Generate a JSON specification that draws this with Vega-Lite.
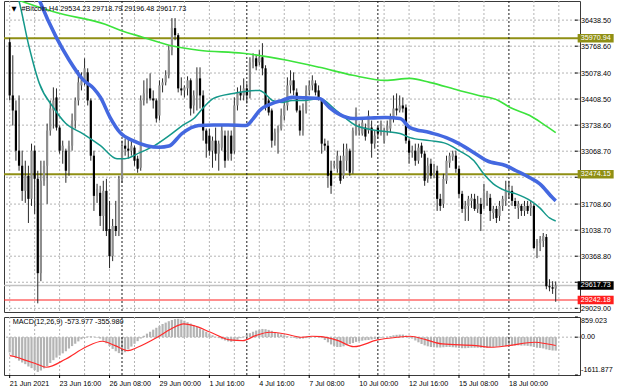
{
"$schema":"https://vega.github.io/schema/vega-lite/v6.json",
"background":"#ffffff",
"padding":{"left":2,"top":0,"right":0,"bottom":0},
"spacing":2,
"config":{
 "font":"Liberation Sans",
 "view":{"stroke":"#3a3a3a","strokeWidth":1},
 "axis":{"domain":false,"labels":false,"ticks":false,"grid":false}
},
"datasets":{
 "candles":[
{"i":0,"o":35871,"h":35974,"l":34373,"c":34502},{"i":1,"o":34502,"h":35535,"l":33728,"c":34115},{"i":2,"o":34115,"h":34373,"l":32824,"c":33082},{"i":3,"o":33082,"h":34502,"l":32566,"c":32695},{"i":4,"o":32695,"h":33082,"l":31791,"c":32049},{"i":5,"o":32049,"h":32824,"l":31740,"c":32437},{"i":6,"o":32437,"h":32695,"l":31223,"c":31843},{"i":7,"o":31843,"h":33263,"l":31662,"c":33082},{"i":8,"o":33082,"h":33211,"l":31456,"c":32359},{"i":9,"o":32359,"h":32566,"l":29157,"c":29932},
{"i":10,"o":29932,"h":32824,"l":29726,"c":32308},{"i":11,"o":32308,"h":32824,"l":32179,"c":32695},{"i":12,"o":32695,"h":33779,"l":31714,"c":33599},{"i":13,"o":33599,"h":34373,"l":33469,"c":34166},{"i":14,"o":34115,"h":34709,"l":33650,"c":34373},{"i":15,"o":34451,"h":34683,"l":33599,"c":33676},{"i":16,"o":33676,"h":33728,"l":33005,"c":33082},{"i":17,"o":33082,"h":33340,"l":32746,"c":33211},{"i":18,"o":33082,"h":33134,"l":32256,"c":32566},{"i":19,"o":32566,"h":33340,"l":32437,"c":33211},
{"i":20,"o":33211,"h":34037,"l":33082,"c":33856},{"i":21,"o":33856,"h":34451,"l":33650,"c":34373},{"i":22,"o":34373,"h":35148,"l":34244,"c":34838},{"i":23,"o":34760,"h":35096,"l":34631,"c":34890},{"i":24,"o":34890,"h":35457,"l":34760,"c":35199},{"i":25,"o":35096,"h":35199,"l":34244,"c":34373},{"i":26,"o":34373,"h":34425,"l":32824,"c":32953},{"i":27,"o":32953,"h":33082,"l":31533,"c":31920},{"i":28,"o":31920,"h":32230,"l":31740,"c":32101},{"i":29,"o":31998,"h":32179,"l":31146,"c":31404},
{"i":30,"o":31404,"h":32308,"l":31016,"c":32049},{"i":31,"o":32049,"h":32359,"l":30887,"c":31016},{"i":32,"o":31068,"h":31791,"l":30061,"c":30371},{"i":33,"o":30371,"h":31327,"l":30242,"c":31146},{"i":34,"o":31146,"h":31791,"l":30887,"c":31016},{"i":35,"o":31016,"h":32437,"l":30887,"c":32359},{"i":36,"o":32359,"h":33340,"l":32256,"c":33211},{"i":37,"o":33211,"h":33392,"l":32953,"c":33134},{"i":38,"o":33134,"h":33392,"l":32876,"c":33082},{"i":39,"o":33082,"h":33340,"l":32953,"c":33211},
{"i":40,"o":33160,"h":33211,"l":32695,"c":32824},{"i":41,"o":32876,"h":32953,"l":32514,"c":32617},{"i":42,"o":32643,"h":34502,"l":32566,"c":34373},{"i":43,"o":34373,"h":34890,"l":34244,"c":34554},{"i":44,"o":34554,"h":34941,"l":34296,"c":34683},{"i":45,"o":34683,"h":35070,"l":34373,"c":34425},{"i":46,"o":34425,"h":34631,"l":34166,"c":34373},{"i":47,"o":34373,"h":34425,"l":33805,"c":33908},{"i":48,"o":33985,"h":34890,"l":33856,"c":34760},{"i":49,"o":34760,"h":34941,"l":34580,"c":34838},
{"i":50,"o":34838,"h":35148,"l":34760,"c":35019},{"i":51,"o":35019,"h":35793,"l":34941,"c":35664},{"i":52,"o":35664,"h":36490,"l":35535,"c":36232},{"i":53,"o":36232,"h":36490,"l":35922,"c":36051},{"i":54,"o":36051,"h":36103,"l":34580,"c":34683},{"i":55,"o":34683,"h":34967,"l":34502,"c":34631},{"i":56,"o":34631,"h":34760,"l":34451,"c":34709},{"i":57,"o":34683,"h":34993,"l":34502,"c":34890},{"i":58,"o":34890,"h":34941,"l":33985,"c":34166},{"i":59,"o":34244,"h":34631,"l":34037,"c":34502},
{"i":60,"o":34502,"h":35225,"l":34115,"c":34941},{"i":61,"o":34941,"h":35225,"l":34166,"c":34502},{"i":62,"o":34502,"h":34631,"l":33340,"c":33599},{"i":63,"o":33599,"h":33650,"l":32901,"c":33263},{"i":64,"o":33469,"h":33650,"l":32953,"c":33082},{"i":65,"o":33082,"h":33444,"l":32643,"c":33340},{"i":66,"o":33340,"h":33676,"l":32824,"c":33005},{"i":67,"o":33005,"h":33340,"l":32566,"c":33263},{"i":68,"o":33160,"h":33728,"l":33082,"c":33599},{"i":69,"o":33469,"h":33599,"l":32643,"c":32824},
{"i":70,"o":32876,"h":33599,"l":32824,"c":33469},{"i":71,"o":33469,"h":33599,"l":32824,"c":33005},{"i":72,"o":33082,"h":34451,"l":33005,"c":34244},{"i":73,"o":34244,"h":34709,"l":34115,"c":34580},{"i":74,"o":34580,"h":34760,"l":34373,"c":34502},{"i":75,"o":34502,"h":34941,"l":34373,"c":34683},{"i":76,"o":34683,"h":34812,"l":34296,"c":34502},{"i":77,"o":34502,"h":35483,"l":34425,"c":35354},{"i":78,"o":35354,"h":35587,"l":35199,"c":35457},{"i":79,"o":35457,"h":35535,"l":35148,"c":35251},
{"i":80,"o":35354,"h":35664,"l":35277,"c":35483},{"i":81,"o":35483,"h":35845,"l":35019,"c":35199},{"i":82,"o":35199,"h":35277,"l":34115,"c":34244},{"i":83,"o":34373,"h":34425,"l":33985,"c":34063},{"i":84,"o":34115,"h":34166,"l":33160,"c":33340},{"i":85,"o":33340,"h":33650,"l":33211,"c":33547},{"i":86,"o":33547,"h":33728,"l":33005,"c":33650},{"i":87,"o":33650,"h":34166,"l":33599,"c":33985},{"i":88,"o":33985,"h":34425,"l":33856,"c":34244},{"i":89,"o":34244,"h":34967,"l":34115,"c":34760},
{"i":90,"o":34760,"h":35148,"l":34554,"c":34890},{"i":91,"o":34890,"h":35096,"l":34502,"c":34631},{"i":92,"o":34580,"h":34683,"l":34063,"c":34115},{"i":93,"o":34115,"h":34244,"l":33469,"c":33599},{"i":94,"o":33599,"h":34296,"l":33469,"c":34115},{"i":95,"o":34115,"h":34760,"l":34037,"c":34631},{"i":96,"o":34631,"h":34890,"l":34502,"c":34760},{"i":97,"o":34760,"h":35019,"l":34631,"c":34890},{"i":98,"o":34812,"h":34890,"l":34502,"c":34580},{"i":99,"o":34631,"h":34760,"l":34373,"c":34451},
{"i":100,"o":34373,"h":34425,"l":33005,"c":33263},{"i":101,"o":33263,"h":33392,"l":33082,"c":33211},{"i":102,"o":33211,"h":33340,"l":32127,"c":32437},{"i":103,"o":32566,"h":32824,"l":31972,"c":32179},{"i":104,"o":32695,"h":32824,"l":32617,"c":32746},{"i":105,"o":32617,"h":33082,"l":32514,"c":32953},{"i":106,"o":32824,"h":32953,"l":32230,"c":32308},{"i":107,"o":32437,"h":33263,"l":32359,"c":32953},{"i":108,"o":32824,"h":33263,"l":32566,"c":33134},{"i":109,"o":33082,"h":33134,"l":32437,"c":32514},
{"i":110,"o":32566,"h":33676,"l":32488,"c":33599},{"i":111,"o":33521,"h":34192,"l":33469,"c":34063},{"i":112,"o":33599,"h":33779,"l":33469,"c":33676},{"i":113,"o":33521,"h":33908,"l":33469,"c":33805},{"i":114,"o":33676,"h":33779,"l":33340,"c":33444},{"i":115,"o":33599,"h":34115,"l":33521,"c":33985},{"i":116,"o":33676,"h":33856,"l":32901,"c":33263},{"i":117,"o":33263,"h":33599,"l":33134,"c":33469},{"i":118,"o":33676,"h":33728,"l":33392,"c":33521},{"i":119,"o":33521,"h":33856,"l":33469,"c":33779},
{"i":120,"o":33340,"h":33676,"l":33263,"c":33599},{"i":121,"o":33599,"h":33856,"l":33469,"c":33728},{"i":122,"o":33650,"h":34037,"l":33547,"c":33934},{"i":123,"o":33908,"h":34502,"l":33805,"c":34166},{"i":124,"o":34166,"h":34554,"l":33985,"c":34115},{"i":125,"o":34115,"h":34502,"l":34063,"c":34244},{"i":126,"o":34244,"h":34451,"l":34063,"c":34166},{"i":127,"o":34192,"h":34270,"l":33263,"c":33340},{"i":128,"o":33340,"h":33392,"l":32746,"c":33030},{"i":129,"o":33030,"h":33211,"l":32901,"c":33082},
{"i":130,"o":33082,"h":33263,"l":32695,"c":32824},{"i":131,"o":32824,"h":33263,"l":32746,"c":33160},{"i":132,"o":33211,"h":33289,"l":32901,"c":33005},{"i":133,"o":33005,"h":33082,"l":32179,"c":32308},{"i":134,"o":32359,"h":32901,"l":32256,"c":32695},{"i":135,"o":32746,"h":32876,"l":32359,"c":32437},{"i":136,"o":32437,"h":32746,"l":32385,"c":32617},{"i":137,"o":32566,"h":32695,"l":31533,"c":31843},{"i":138,"o":31843,"h":31972,"l":31533,"c":31662},{"i":139,"o":31714,"h":32488,"l":31610,"c":32359},
{"i":140,"o":32308,"h":32953,"l":32230,"c":32824},{"i":141,"o":32772,"h":33030,"l":32643,"c":32953},{"i":142,"o":32927,"h":33082,"l":32824,"c":33005},{"i":143,"o":32953,"h":33082,"l":32514,"c":32617},{"i":144,"o":32617,"h":32695,"l":31869,"c":31972},{"i":145,"o":31972,"h":32049,"l":31481,"c":31585},{"i":146,"o":31585,"h":31791,"l":31275,"c":31662},{"i":147,"o":31662,"h":31920,"l":31275,"c":31843},{"i":148,"o":31791,"h":31972,"l":31610,"c":31869},{"i":149,"o":31843,"h":31972,"l":31533,"c":31585},
{"i":150,"o":31585,"h":31920,"l":31481,"c":31714},{"i":151,"o":31714,"h":31869,"l":31016,"c":31456},{"i":152,"o":31662,"h":32230,"l":31585,"c":31998},{"i":153,"o":31869,"h":32049,"l":31662,"c":31998},{"i":154,"o":31869,"h":31972,"l":31275,"c":31533},{"i":155,"o":31481,"h":31662,"l":31327,"c":31585},{"i":156,"o":31585,"h":31662,"l":31223,"c":31352},{"i":157,"o":31404,"h":31791,"l":31275,"c":31662},{"i":158,"o":31662,"h":31920,"l":31533,"c":31843},{"i":159,"o":31791,"h":32308,"l":31662,"c":32049},
{"i":160,"o":31998,"h":32308,"l":31843,"c":32101},{"i":161,"o":32049,"h":32179,"l":31662,"c":31791},{"i":162,"o":31791,"h":31869,"l":31585,"c":31662},{"i":163,"o":31610,"h":31791,"l":31327,"c":31714},{"i":164,"o":31662,"h":31714,"l":31404,"c":31533},{"i":165,"o":31533,"h":31791,"l":31404,"c":31662},{"i":166,"o":31662,"h":31791,"l":31456,"c":31533},{"i":167,"o":31610,"h":31791,"l":31404,"c":31714},{"i":168,"o":31662,"h":31714,"l":30552,"c":30578},{"i":169,"o":30629,"h":30810,"l":30319,"c":30758},
{"i":170,"o":30707,"h":30887,"l":30500,"c":30810},{"i":171,"o":30758,"h":30965,"l":30603,"c":30887},{"i":172,"o":30861,"h":30939,"l":29519,"c":29597},{"i":173,"o":29597,"h":29777,"l":29467,"c":29570},{"i":174,"o":29570,"h":29726,"l":29400,"c":29534},{"i":175,"o":29534.23,"h":29718.79,"l":29196.48,"c":29617.73}
 ],
 "ma":[
{"s":"ma50","i":8,"v":37265},{"s":"ma50","i":9.5,"v":36955},{"s":"ma50","i":14.9,"v":36000},{"s":"ma50","i":19,"v":35420},{"s":"ma50","i":23.4,"v":34915},{"s":"ma50","i":26.9,"v":34683},{"s":"ma50","i":29.1,"v":34451},{"s":"ma50","i":32.2,"v":33934},{"s":"ma50","i":35.4,"v":33547},{"s":"ma50","i":39.5,"v":33340},{"s":"ma50","i":43.9,"v":33211},{"s":"ma50","i":48,"v":33170},{"s":"ma50","i":51,"v":33200},{"s":"ma50","i":55.2,"v":33521},{"s":"ma50","i":60.6,"v":33728},{"s":"ma50","i":65.3,"v":33740},{"s":"ma50","i":70,"v":33740},{"s":"ma50","i":75.7,"v":33728},{"s":"ma50","i":78,"v":33900},{"s":"ma50","i":80.1,"v":34115},{"s":"ma50","i":84.2,"v":34296},{"s":"ma50","i":87.3,"v":34373},{"s":"ma50","i":90.5,"v":34451},{"s":"ma50","i":95,"v":34440},{"s":"ma50","i":99.3,"v":34425},{"s":"ma50","i":102.5,"v":34192},{"s":"ma50","i":106,"v":34000},{"s":"ma50","i":110,"v":33908},{"s":"ma50","i":115,"v":33920},{"s":"ma50","i":120.4,"v":33934},{"s":"ma50","i":125.1,"v":33908},{"s":"ma50","i":128.3,"v":33676},{"s":"ma50","i":134.6,"v":33547},{"s":"ma50","i":139.9,"v":33418},{"s":"ma50","i":144,"v":33263},{"s":"ma50","i":150.3,"v":32953},{"s":"ma50","i":152.9,"v":32824},{"s":"ma50","i":159.1,"v":32695},{"s":"ma50","i":162.3,"v":32566},{"s":"ma50","i":166.7,"v":32385},{"s":"ma50","i":169.9,"v":32230},{"s":"ma50","i":174,"v":31869},{"s":"ma50","i":175,"v":31791},
{"s":"ma21","i":1.5,"v":37300},{"s":"ma21","i":2.9,"v":36955},{"s":"ma21","i":6.1,"v":35793},{"s":"ma21","i":9.5,"v":34812},{"s":"ma21","i":14,"v":34192},{"s":"ma21","i":18,"v":33779},{"s":"ma21","i":23.4,"v":33521},{"s":"ma21","i":29.1,"v":33211},{"s":"ma21","i":34.4,"v":32876},{"s":"ma21","i":36.9,"v":32876},{"s":"ma21","i":41.7,"v":33030},{"s":"ma21","i":46.4,"v":33211},{"s":"ma21","i":51.1,"v":33469},{"s":"ma21","i":55.8,"v":33753},{"s":"ma21","i":59,"v":33908},{"s":"ma21","i":62.1,"v":34192},{"s":"ma21","i":65.3,"v":34425},{"s":"ma21","i":71.6,"v":34554},{"s":"ma21","i":80.1,"v":34631},{"s":"ma21","i":81.7,"v":34554},{"s":"ma21","i":84.2,"v":34373},{"s":"ma21","i":87.3,"v":34321},{"s":"ma21","i":90.5,"v":34373},{"s":"ma21","i":94.3,"v":34373},{"s":"ma21","i":99.3,"v":34425},{"s":"ma21","i":104.7,"v":34115},{"s":"ma21","i":111,"v":33728},{"s":"ma21","i":115.7,"v":33624},{"s":"ma21","i":120.4,"v":33573},{"s":"ma21","i":125.1,"v":33521},{"s":"ma21","i":128.3,"v":33418},{"s":"ma21","i":134.6,"v":33340},{"s":"ma21","i":139.9,"v":33263},{"s":"ma21","i":144,"v":33082},{"s":"ma21","i":148.8,"v":32824},{"s":"ma21","i":151.9,"v":32488},{"s":"ma21","i":155,"v":32230},{"s":"ma21","i":159.1,"v":32049},{"s":"ma21","i":162.3,"v":31972},{"s":"ma21","i":167,"v":31791},{"s":"ma21","i":169.9,"v":31610},{"s":"ma21","i":173,"v":31352},{"s":"ma21","i":175,"v":31275},
{"s":"ma200","i":0,"v":37032},{"s":"ma200","i":5.4,"v":36878},{"s":"ma200","i":14.9,"v":36635},{"s":"ma200","i":30.6,"v":36330},{"s":"ma200","i":35.4,"v":36180},{"s":"ma200","i":42.6,"v":36000},{"s":"ma200","i":51.1,"v":35793},{"s":"ma200","i":60.6,"v":35664},{"s":"ma200","i":74.7,"v":35587},{"s":"ma200","i":88.9,"v":35406},{"s":"ma200","i":99.3,"v":35225},{"s":"ma200","i":110,"v":35019},{"s":"ma200","i":120.4,"v":34890},{"s":"ma200","i":128.3,"v":34941},{"s":"ma200","i":134.6,"v":34838},{"s":"ma200","i":144,"v":34631},{"s":"ma200","i":150.3,"v":34502},{"s":"ma200","i":156.6,"v":34373},{"s":"ma200","i":160.4,"v":34192},{"s":"ma200","i":166.7,"v":33985},{"s":"ma200","i":170.8,"v":33779},{"s":"ma200","i":175,"v":33547}
 ],
 "hist":[
{"i":0,"v":-650},{"i":1,"v":-780},{"i":2,"v":-900},{"i":3,"v":-1000},{"i":4,"v":-1080},{"i":5,"v":-1150},{"i":6,"v":-1250},{"i":7,"v":-1320},{"i":8,"v":-1400},{"i":9,"v":-1480},{"i":10,"v":-1420},{"i":11,"v":-1330},{"i":12,"v":-1240},{"i":13,"v":-1100},{"i":14,"v":-980},{"i":15,"v":-870},{"i":16,"v":-780},{"i":17,"v":-690},{"i":18,"v":-600},{"i":19,"v":-480},{"i":20,"v":-380},{"i":21,"v":-280},{"i":22,"v":-180},{"i":23,"v":-90},{"i":24,"v":-30},{"i":25,"v":30},{"i":26,"v":40},{"i":27,"v":20},{"i":28,"v":-20},{"i":29,"v":-60},{"i":30,"v":-150},{"i":31,"v":-260},{"i":32,"v":-380},{"i":33,"v":-500},{"i":34,"v":-600},{"i":35,"v":-680},{"i":36,"v":-715},{"i":37,"v":-640},{"i":38,"v":-520},{"i":39,"v":-400},{"i":40,"v":-280},{"i":41,"v":-170},{"i":42,"v":-60},{"i":43,"v":60},{"i":44,"v":150},{"i":45,"v":230},{"i":46,"v":320},{"i":47,"v":400},{"i":48,"v":480},{"i":49,"v":560},{"i":50,"v":620},{"i":51,"v":680},{"i":52,"v":730},{"i":53,"v":770},{"i":54,"v":780},{"i":55,"v":750},{"i":56,"v":700},{"i":57,"v":640},{"i":58,"v":580},{"i":59,"v":510},{"i":60,"v":440},{"i":61,"v":370},{"i":62,"v":300},{"i":63,"v":230},{"i":64,"v":150},{"i":65,"v":80},{"i":66,"v":20},{"i":67,"v":-40},{"i":68,"v":-90},{"i":69,"v":-140},{"i":70,"v":-180},{"i":71,"v":-200},{"i":72,"v":-170},{"i":73,"v":-110},{"i":74,"v":-40},{"i":75,"v":30},{"i":76,"v":100},{"i":77,"v":170},{"i":78,"v":230},{"i":79,"v":280},{"i":80,"v":320},{"i":81,"v":350},{"i":82,"v":340},{"i":83,"v":310},{"i":84,"v":270},{"i":85,"v":220},{"i":86,"v":170},{"i":87,"v":120},{"i":88,"v":80},{"i":89,"v":40},{"i":90,"v":5},{"i":91,"v":-30},{"i":92,"v":-60},{"i":93,"v":-70},{"i":94,"v":-60},{"i":95,"v":-40},{"i":96,"v":-20},{"i":97,"v":5},{"i":98,"v":20},{"i":99,"v":10},{"i":100,"v":-40},{"i":101,"v":-120},{"i":102,"v":-220},{"i":103,"v":-310},{"i":104,"v":-380},{"i":105,"v":-420},{"i":106,"v":-420},{"i":107,"v":-390},{"i":108,"v":-340},{"i":109,"v":-290},{"i":110,"v":-250},{"i":111,"v":-200},{"i":112,"v":-170},{"i":113,"v":-150},{"i":114,"v":-130},{"i":115,"v":-120},{"i":116,"v":-100},{"i":117,"v":-80},{"i":118,"v":-60},{"i":119,"v":-30},{"i":120,"v":5},{"i":121,"v":20},{"i":122,"v":50},{"i":123,"v":80},{"i":124,"v":100},{"i":125,"v":110},{"i":126,"v":110},{"i":127,"v":70},{"i":128,"v":20},{"i":129,"v":-60},{"i":130,"v":-140},{"i":131,"v":-220},{"i":132,"v":-290},{"i":133,"v":-350},{"i":134,"v":-390},{"i":135,"v":-420},{"i":136,"v":-430},{"i":137,"v":-440},{"i":138,"v":-440},{"i":139,"v":-430},{"i":140,"v":-420},{"i":141,"v":-420},{"i":142,"v":-430},{"i":143,"v":-440},{"i":144,"v":-460},{"i":145,"v":-470},{"i":146,"v":-470},{"i":147,"v":-460},{"i":148,"v":-450},{"i":149,"v":-450},{"i":150,"v":-450},{"i":151,"v":-450},{"i":152,"v":-450},{"i":153,"v":-440},{"i":154,"v":-430},{"i":155,"v":-420},{"i":156,"v":-410},{"i":157,"v":-400},{"i":158,"v":-390},{"i":159,"v":-380},{"i":160,"v":-370},{"i":161,"v":-360},{"i":162,"v":-350},{"i":163,"v":-350},{"i":164,"v":-360},{"i":165,"v":-360},{"i":166,"v":-370},{"i":167,"v":-390},{"i":168,"v":-420},{"i":169,"v":-450},{"i":170,"v":-460},{"i":171,"v":-480},{"i":172,"v":-520},{"i":173,"v":-550},{"i":174,"v":-570},{"i":175,"v":-573.977}
 ],
 "signal":[
{"i":0,"v":-788},{"i":2.3,"v":-856},{"i":5.4,"v":-1001},{"i":8.6,"v":-1142},{"i":11.7,"v":-1282},{"i":18,"v":-929},{"i":24.3,"v":-430},{"i":29.7,"v":-175},{"i":33.8,"v":-362},{"i":37.9,"v":-575},{"i":41,"v":-430},{"i":47.3,"v":-4},{"i":51.7,"v":349},{"i":55.8,"v":562},{"i":59,"v":490},{"i":64.4,"v":209},{"i":70.6,"v":-119},{"i":74.7,"v":-149},{"i":78.8,"v":64},{"i":83.2,"v":209},{"i":88.3,"v":136},{"i":93.6,"v":-4},{"i":96.8,"v":38},{"i":100,"v":21},{"i":105.3,"v":-149},{"i":110.3,"v":-405},{"i":117.9,"v":-119},{"i":124.2,"v":-4},{"i":128.3,"v":38},{"i":133.6,"v":-119},{"i":138.7,"v":-290},{"i":149.4,"v":-362},{"i":154.4,"v":-430},{"i":159.8,"v":-362},{"i":168.3,"v":-217},{"i":172.4,"v":-290},{"i":175,"v":-355.98}
 ],
 "levels":[{"p":35970.94,"kind":"res"},{"p":32474.15,"kind":"res"},{"p":29617.73,"kind":"bid"},{"p":29242.18,"kind":"sup"}],
 "seps":[{"i":36},{"i":76},{"i":118},{"i":160}],
 "xgrid":[{"i":0},{"i":8},{"i":16},{"i":24},{"i":32},{"i":40},{"i":48},{"i":56},{"i":64},{"i":72},{"i":80},{"i":88},{"i":96},{"i":104},{"i":112},{"i":120},{"i":128},{"i":136},{"i":144},{"i":152},{"i":168},{"i":176}],
 "yticks":[{"p":36438.5,"show":true},{"p":35768.6,"show":true},{"p":35078.4,"show":true},{"p":34408.5,"show":true},{"p":33738.6,"show":true},{"p":33068.7,"show":true},{"p":32398.8,"show":false},{"p":31708.6,"show":true},{"p":31038.7,"show":true},{"p":30368.8,"show":true},{"p":29698.9,"show":false},{"p":29029.0,"show":true}],
 "ticksx":[
{"i":0,"label":"21 Jun 2021"},{"i":16,"label":"23 Jun 16:00"},{"i":32,"label":"26 Jun 08:00"},{"i":48,"label":"29 Jun 00:00"},{"i":64,"label":"1 Jul 16:00"},{"i":80,"label":"4 Jul 16:00"},{"i":96,"label":"7 Jul 08:00"},{"i":112,"label":"10 Jul 00:00"},{"i":128,"label":"12 Jul 16:00"},{"i":144,"label":"15 Jul 08:00"},{"i":160,"label":"18 Jul 00:00"}
 ]
},
"vconcat":[
 {
  "width":576,"height":311,
  "layer":[
   {"data":{"name":"xgrid"},"mark":{"type":"rule","strokeDash":[2,2],"strokeWidth":1,"color":"#b4b4b4"},
    "encoding":{"x":{"field":"i","type":"quantitative","scale":{"domain":[-0.22,181.18],"nice":false,"zero":false},"axis":{"title":null,"labels":false,"ticks":false,"grid":false,"domain":false}}}},
   {"data":{"name":"yticks"},"mark":{"type":"rule","strokeDash":[2,2],"strokeWidth":1,"color":"#b4b4b4"},
    "encoding":{"y":{"field":"p","type":"quantitative","scale":{"domain":[28934,36930],"nice":false,"zero":false},"axis":{"title":null,"orient":"right","labels":false,"ticks":false,"grid":false,"domain":false}}}},
   {"data":{"name":"levels"},"mark":{"type":"rule"},
    "encoding":{
     "y":{"field":"p","type":"quantitative"},
     "stroke":{"field":"kind","type":"nominal","legend":null,"scale":{"domain":["res","bid","sup"],"range":["#8f8f14","#c2c2c2","#ff1f1f"]}},
     "strokeWidth":{"field":"kind","type":"nominal","legend":null,"scale":{"domain":["res","bid","sup"],"range":[2,1,2]}}}},
   {"data":{"name":"seps"},"mark":{"type":"rule","strokeDash":[2,2],"strokeWidth":1},
    "encoding":{"x":{"field":"i","type":"quantitative"},"color":{"value":"#1a1a1a"}}},
   {"data":{"name":"candles"},"mark":{"type":"rule","strokeWidth":1},
    "encoding":{"x":{"field":"i","type":"quantitative"},"y":{"field":"l","type":"quantitative"},"y2":{"field":"h"},"color":{"value":"#2a2a2a"}}},
   {"data":{"name":"candles"},"mark":{"type":"bar","size":2.2},
    "encoding":{
     "x":{"field":"i","type":"quantitative"},
     "y":{"field":"o","type":"quantitative"},
     "y2":{"field":"c"},
     "color":{"condition":{"test":"datum.c >= datum.o","value":"#8e8e8e"},"value":"#000000"}}},
   {"data":{"name":"ma"},"transform":[{"filter":"datum.s == 'ma200'"}],"mark":{"type":"line","clip":true,"interpolate":"monotone","strokeWidth":1.6,"color":"#3ce33c"},
    "encoding":{"x":{"field":"i","type":"quantitative"},"y":{"field":"v","type":"quantitative"}}},
   {"data":{"name":"ma"},"transform":[{"filter":"datum.s == 'ma21'"}],"mark":{"type":"line","clip":true,"interpolate":"monotone","strokeWidth":1.5,"color":"#14988a"},
    "encoding":{"x":{"field":"i","type":"quantitative"},"y":{"field":"v","type":"quantitative"}}},
   {"data":{"name":"ma"},"transform":[{"filter":"datum.s == 'ma50'"}],"mark":{"type":"line","clip":true,"interpolate":"monotone","strokeWidth":3.6,"color":"#4468e0"},
    "encoding":{"x":{"field":"i","type":"quantitative"},"y":{"field":"v","type":"quantitative"}}},
   {"data":{"name":"yticks"},"mark":{"type":"rule","color":"#000000","strokeWidth":1},
    "encoding":{"x":{"datum":181.18,"type":"quantitative"},"x2":{"datum":182.1},"y":{"field":"p","type":"quantitative"}}},
   {"data":{"name":"yticks"},"transform":[{"filter":"datum.show"}],"mark":{"type":"text","align":"left","baseline":"middle","fontSize":7.2,"font":"Liberation Sans","color":"#000000","dy":1},
    "encoding":{"x":{"datum":183.1,"type":"quantitative"},"y":{"field":"p","type":"quantitative"},"text":{"field":"p","type":"quantitative","format":".2f"}}},
   {"data":{"name":"levels"},"mark":{"type":"tick","orient":"horizontal","size":36,"thickness":8.5,"filled":true,"opacity":1},
    "encoding":{
     "x":{"datum":187.8,"type":"quantitative"},
     "y":{"field":"p","type":"quantitative"},
     "fill":{"field":"kind","type":"nominal","legend":null,"scale":{"domain":["res","bid","sup"],"range":["#8f8f14","#000000","#ff1f1f"]}}}},
   {"data":{"name":"levels"},"mark":{"type":"text","align":"center","baseline":"middle","fontSize":7.2,"font":"Liberation Sans","color":"#ffffff"},
    "encoding":{
     "x":{"datum":187.8,"type":"quantitative"},
     "y":{"field":"p","type":"quantitative"},
     "text":{"field":"p","type":"quantitative","format":".2f"}}},
   {"data":{"values":[{"t":"▼"}]},"mark":{"type":"text","align":"center","baseline":"middle","fontSize":6.5,"font":"DejaVu Sans","color":"#000000"},
    "encoding":{"x":{"datum":1.4,"type":"quantitative"},"y":{"datum":36725,"type":"quantitative"},"text":{"field":"t","type":"nominal"}}},
   {"data":{"values":[{"t":"#Bitcoin,H4  29534.23 29718.79 29196.48 29617.73"}]},"mark":{"type":"text","align":"left","baseline":"middle","fontSize":7.2,"font":"Liberation Sans","color":"#000000"},
    "encoding":{"x":{"datum":3.8,"type":"quantitative"},"y":{"datum":36717,"type":"quantitative"},"text":{"field":"t","type":"nominal"}}}
  ]
 },
 {
  "width":576,"height":58,
  "layer":[
   {"data":{"name":"xgrid"},"mark":{"type":"rule","strokeDash":[2,2],"strokeWidth":1,"color":"#b4b4b4"},
    "encoding":{"x":{"field":"i","type":"quantitative","scale":{"domain":[-0.22,181.18],"nice":false,"zero":false},"axis":{"title":null,"labels":false,"ticks":false,"grid":false,"domain":false}}}},
   {"data":{"values":[{"v":0}]},"mark":{"type":"rule","strokeDash":[2,2],"strokeWidth":1,"color":"#b4b4b4"},
    "encoding":{"y":{"field":"v","type":"quantitative","scale":{"domain":[-1611.877,859.023],"nice":false,"zero":false},"axis":{"title":null,"orient":"right","labels":false,"ticks":false,"grid":false,"domain":false}}}},
   {"data":{"name":"hist"},"mark":{"type":"bar","size":2.2,"color":"#b4b4b4"},
    "encoding":{"x":{"field":"i","type":"quantitative"},"y":{"field":"v","type":"quantitative","stack":null}}},
   {"data":{"name":"seps"},"mark":{"type":"rule","strokeDash":[2,2],"strokeWidth":1},
    "encoding":{"x":{"field":"i","type":"quantitative"},"color":{"value":"#1a1a1a"}}},
   {"data":{"name":"signal"},"mark":{"type":"line","interpolate":"monotone","strokeWidth":1.2,"color":"#ff2a2a","clip":true},
    "encoding":{"x":{"field":"i","type":"quantitative"},"y":{"field":"v","type":"quantitative"}}},
   {"data":{"name":"ticksx"},"mark":{"type":"rule","color":"#000000","strokeWidth":1,"clip":false},
    "encoding":{"x":{"field":"i","type":"quantitative"},"y":{"datum":-1611.877,"type":"quantitative"},"y2":{"datum":-1740}}},
   {"data":{"name":"ticksx"},"mark":{"type":"text","align":"left","baseline":"middle","fontSize":7.2,"font":"Liberation Sans","color":"#000000","dy":9},
    "encoding":{"x":{"field":"i","type":"quantitative"},"y":{"datum":-1611.877,"type":"quantitative"},"text":{"field":"label","type":"nominal"}}},
   {"data":{"values":[{"v":859.023},{"v":0},{"v":-1611.877}]},"mark":{"type":"rule","color":"#000000","strokeWidth":1},
    "encoding":{"x":{"datum":181.18,"type":"quantitative"},"x2":{"datum":182.1},"y":{"field":"v","type":"quantitative"}}},
   {"data":{"values":[{"v":859.023,"t":"859.023"}]},"mark":{"type":"text","align":"left","baseline":"top","fontSize":7.2,"font":"Liberation Sans","color":"#000000"},
    "encoding":{"x":{"datum":183.1,"type":"quantitative"},"y":{"field":"v","type":"quantitative"},"text":{"field":"t","type":"nominal"}}},
   {"data":{"values":[{"v":0,"t":"0.00"}]},"mark":{"type":"text","align":"left","baseline":"middle","fontSize":7.2,"font":"Liberation Sans","color":"#000000"},
    "encoding":{"x":{"datum":183.1,"type":"quantitative"},"y":{"field":"v","type":"quantitative"},"text":{"field":"t","type":"nominal"}}},
   {"data":{"values":[{"v":-1611.877,"t":"-1611.877"}]},"mark":{"type":"text","align":"left","baseline":"bottom","fontSize":7.2,"font":"Liberation Sans","color":"#000000","dy":-1},
    "encoding":{"x":{"datum":183.1,"type":"quantitative"},"y":{"field":"v","type":"quantitative"},"text":{"field":"t","type":"nominal"}}},
   {"data":{"values":[{"t":"MACD(12,26,9) -573.977 -355.980"}]},"mark":{"type":"text","align":"left","baseline":"middle","fontSize":7.2,"font":"Liberation Sans","color":"#000000"},
    "encoding":{"x":{"datum":1.0,"type":"quantitative"},"y":{"datum":635,"type":"quantitative"},"text":{"field":"t","type":"nominal"}}}
  ]
 }
]
}
